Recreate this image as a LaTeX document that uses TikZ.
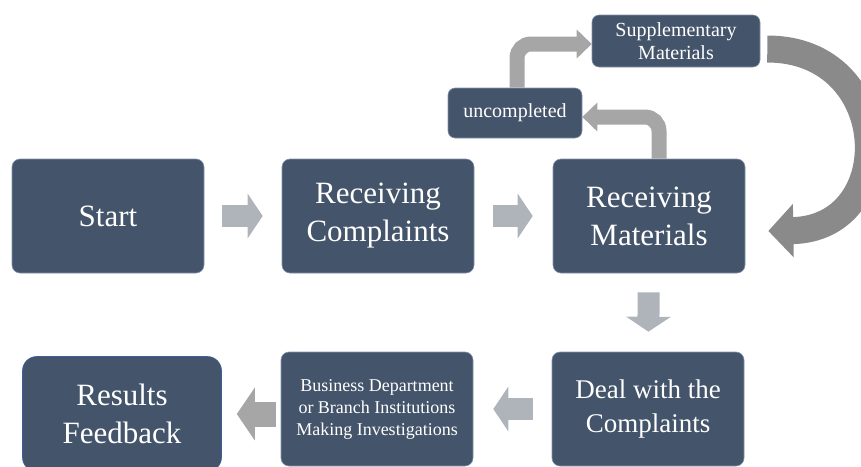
\documentclass[tikz,border=0pt]{standalone}
\usepackage{fontspec}
\setmainfont{Liberation Serif}
\newfontfamily\boxfont{Liberation Serif}
\usetikzlibrary{positioning, arrows.meta, shapes.geometric}
\definecolor{boxblue}{HTML}{44546A}
\definecolor{boxline}{HTML}{8394AD}
\definecolor{resline}{HTML}{3A5F9A}
\definecolor{arrowlight}{HTML}{AFB4BB}
\definecolor{arrowgray}{HTML}{A6A6A6}
\definecolor{arrowdark}{HTML}{8A8A8A}

\begin{document}
\begin{tikzpicture}[
    x=1pt, y=-1pt,
    every node/.style={align=center, text=white},
    bigbox/.style={rectangle, rounded corners=2.8mm, draw=boxline, fill=boxblue, line width=0.6pt, minimum width=192pt, minimum height=114pt, inner sep=0pt, font=\boxfont\fontsize{31}{38}\selectfont},
    smallbox/.style={rectangle, rounded corners=2.5mm, draw=boxline, fill=boxblue, line width=0.6pt, inner sep=0pt, font=\boxfont\fontsize{20}{23}\selectfont},
    blockarrow/.style={-{Triangle[width=44pt, length=15pt]}, line width=22pt, draw=arrowlight},
    bentarrow/.style={-{Triangle[width=28pt, length=15pt]}, line width=15pt, draw=arrowgray, rounded corners=14pt},
    curvearrow/.style={-{Triangle[width=52pt, length=25pt]}, line width=27pt, draw=arrowdark}
]
\useasboundingbox (0,0) rectangle (861,466);

% --- Fila superior
\node[bigbox] (start) at (108,216) {Start};
\node[bigbox] (recc) at (378,216) {Receiving\\Complaints};
\node[bigbox] (recm) at (649,216) {Receiving\\Materials};

% --- Bucle de materiales
\node[smallbox, minimum width=134pt, minimum height=50pt] (uncomp) at (515,113) {uncompleted};
\node[smallbox, minimum width=168pt, minimum height=52pt] (supp) at (676,41) {Supplementary\\Materials};

% --- Fila inferior
\node[bigbox, font=\boxfont\fontsize{27}{34}\selectfont] (deal) at (648,409) {Deal with the\\Complaints};
\node[bigbox, font=\boxfont\fontsize{18}{22}\selectfont] (invest) at (377,409) {Business Department\\or Branch Institutions\\Making Investigations};
\node[bigbox, minimum width=199pt, minimum height=115pt, rounded corners=5mm, draw=resline] (result) at (122,414) {Results\\Feedback};

% --- Flechas principales
\draw[blockarrow, shorten <=18pt, shorten >=19pt] (start) -- (recc);
\draw[blockarrow, shorten <=19pt, shorten >=20pt] (recc) -- (recm);
\draw[blockarrow, shorten <=19pt, shorten >=20pt] (recm) -- (deal);
\draw[blockarrow, shorten <=19pt, shorten >=20pt] (deal) -- (invest);
\draw[blockarrow, draw=arrowgray, line width=25pt, -{Triangle[width=52pt, length=18pt]}, shorten <=5pt, shorten >=15pt] (invest.west |- result.east) -- (result.east);

% --- Flechas del bucle
\draw[bentarrow] ([xshift=10pt]recm.north) |- ([yshift=-4pt]uncomp.east);
\draw[bentarrow] ([xshift=2pt]uncomp.north) |- ([yshift=-3pt]supp.west);
\draw[curvearrow, shorten <=7pt] ([yshift=-8pt]supp.east) .. controls (895,49) and (900,229) .. ([xshift=23pt, yshift=-15pt]recm.east);

\end{tikzpicture}
\end{document}
